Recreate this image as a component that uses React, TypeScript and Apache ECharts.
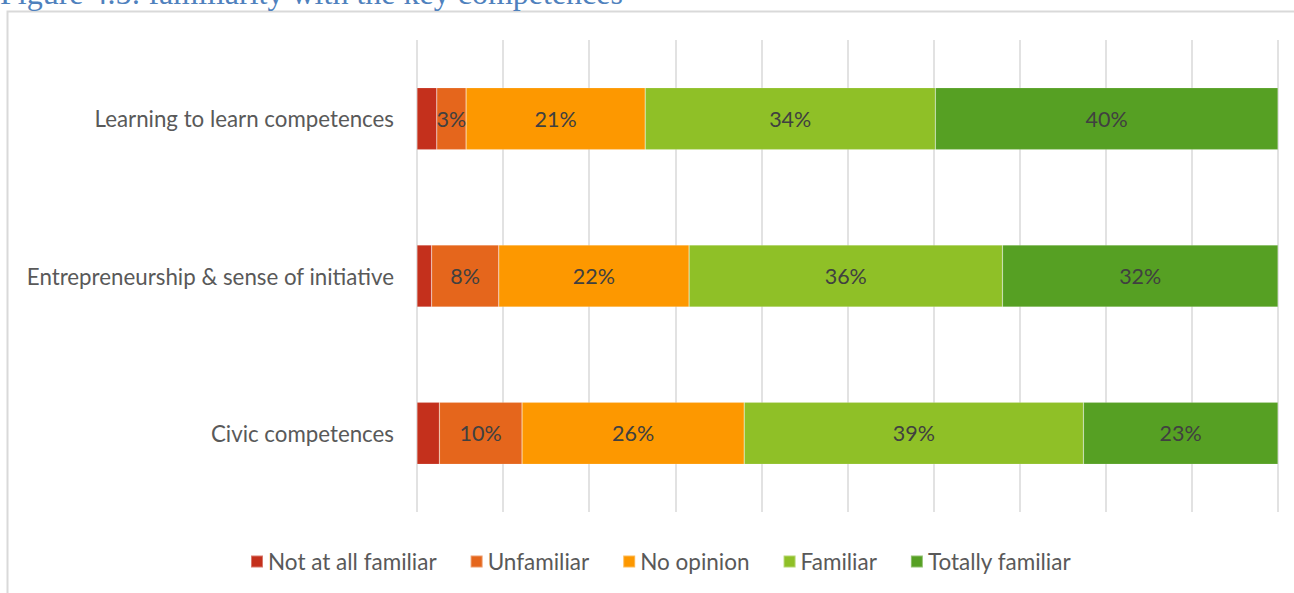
import React, { useEffect, useRef } from "react";
import * as echarts from "echarts";

const categories = [
  "Learning to learn competences",
  "Entrepreneurship & sense of initiative",
  "Civic competences",
];
const seriesNames = ["Not at all familiar", "Unfamiliar", "No opinion", "Familiar", "Totally familiar"];
const notAtAllFamiliar = [2.3, 1.7, 2.6];
const unfamiliar = [3.4, 7.8, 9.6];
const noOpinion = [20.8, 22.1, 25.8];
const familiar = [33.7, 36.4, 39.4];
const totallyFamiliar = [39.8, 32.0, 22.6];
const colors = ["#c4301c", "#e5661c", "#fd9800", "#8fc027", "#56a023"];
const showLabels = [false, true, true, true, true];
const titleText = "Figure 4.5: familiarity with the key competences";

export default function App() {
  const ref = useRef<HTMLDivElement>(null);
  useEffect(() => {
    document.body.style.margin = "0";
    const chart = echarts.init(ref.current!, null, { renderer: "svg" });
    const data = [notAtAllFamiliar, unfamiliar, noOpinion, familiar, totallyFamiliar];
    const font = "Lato, 'Open Sans', sans-serif";
    chart.setOption({
      animation: false,
      textStyle: { fontFamily: font },
      graphic: [
        {
          type: "rect",
          shape: { x: 7.5, y: 11.5, width: 1400, height: 700 },
          style: { fill: "none", stroke: "#d9d9d9", lineWidth: 2 },
          silent: true,
        },
        {
          type: "text",
          x: 0,
          y: 9,
          style: {
            text: titleText,
            font: "32px 'Liberation Serif', serif",
            fill: "#4f81bd",
            verticalAlign: "bottom",
          },
        },
      ],
      grid: { left: 417, right: 16, top: 40, bottom: 81, containLabel: false },
      legend: {
        data: seriesNames,
        bottom: 15,
        left: 245,
        itemWidth: 12,
        itemHeight: 12,
        itemGap: 33,
        icon: "rect",
        textStyle: { fontSize: 22.5, color: "#595959", fontFamily: font },
      },
      xAxis: {
        type: "value",
        min: 0,
        max: 100,
        interval: 10,
        axisLabel: { show: false },
        axisLine: { show: false },
        axisTick: { show: false },
        splitLine: { lineStyle: { color: "#d9d9d9", width: 1.5 } },
      },
      yAxis: {
        type: "category",
        data: categories,
        inverse: true,
        axisLine: { show: false },
        axisTick: { show: false },
        axisLabel: { fontSize: 22.3, color: "#595959", margin: 23, fontFamily: font },
      },
      series: seriesNames.map((name, i) => ({
        name,
        type: "bar",
        stack: "total",
        barWidth: 62,
        data: data[i],
        itemStyle: { color: colors[i], borderColor: "rgba(255,255,255,0.35)", borderWidth: 0.5 },
        label: {
          show: showLabels[i],
          position: "inside",
          fontSize: 21.5,
          color: "#404040",
          fontFamily: font,
          formatter: (p: any) => Math.round(p.value) + "%",
        },
      })),
    });
    return () => chart.dispose();
  }, []);
  return <div ref={ref} style={{ width: 1294, height: 593 }} />;
}
